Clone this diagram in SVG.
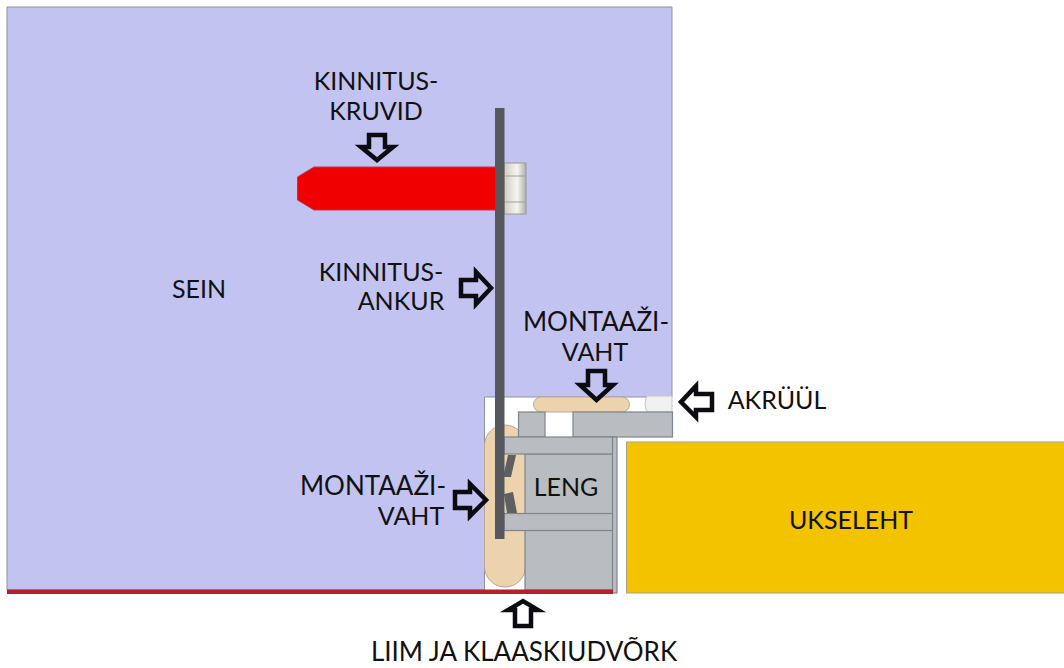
<svg xmlns="http://www.w3.org/2000/svg" width="1064" height="668" viewBox="0 0 1064 668">
<style>
.t{font-family:Lato,"Open Sans","Liberation Sans",sans-serif;font-size:25px;fill:#111;text-anchor:middle}
.w{font-size:26px}
.g{fill:#b9bcc0;stroke:#7f858c;stroke-width:1.2}
.f{fill:#edd2ae;stroke:#b8a896;stroke-width:1}
.a{fill:none;stroke:#0b0b12;stroke-width:4.500;stroke-linejoin:miter}
</style>
<defs>
<linearGradient id="b" x1="0" y1="0" x2="1" y2="0"><stop offset="0" stop-color="#cfcdc0"/><stop offset=".6" stop-color="#f6f5f0"/><stop offset="1" stop-color="#b0b0aa"/></linearGradient>
</defs>
<rect width="1064" height="668" fill="#fff"/>
<g id="sein"><path d="M7 7H672V397H484.500V590H7Z" fill="#c3c3f2" stroke="#8f93a0" stroke-width="1"/><text class="t" x="199" y="298">SEIN</text></g>
<g id="ukseleht"><rect x="626.500" y="442" width="445" height="151" fill="#f3c300" stroke="#a8a48c" stroke-width="1"/><text class="t" x="851" y="529">UKSELEHT</text></g>
<g id="akruul"><path d="M647 396H672V412H647Q643 404 647 396Z" fill="#f0f0f0" stroke="#c8c8c8"/></g>
<g id="montaazivaht-top"><rect x="533.500" y="397" width="96" height="15" rx="7.500" class="f"/></g>
<g id="montaazivaht-left"><rect x="484.500" y="425" width="41" height="162" rx="20.500" class="f"/></g>
<g id="leng">
<rect x="518.500" y="412" width="26.500" height="25" class="g"/>
<rect x="573" y="412" width="99.500" height="25" class="g"/>
<rect x="525" y="454" width="88" height="136" class="g"/>
<rect x="612.500" y="437" width="4.500" height="156" class="g"/>
<rect x="504" y="437" width="108.500" height="17" class="g"/>
<rect x="504" y="513.500" width="108.500" height="17" class="g"/>
<path d="M508 455H516L511 477H503ZM504 494L513 492L517 513H507Z" fill="#5d5f63"/>
<text class="t" x="566" y="496">LENG</text>
</g>
<g id="liim"><rect x="7" y="589.500" width="606" height="4.500" fill="#b5202c"/></g>
<g id="kruvi">
<path d="M297.500 177L314 167H497V210H314L297.500 200Z" fill="#f00000" stroke="#b83a4a" stroke-width="1"/>
<rect x="504" y="163" width="22" height="51" fill="url(#b)" stroke="#9a9a94"/>
<path d="M504 176H526M504 202H526" stroke="#a0a09a" stroke-width="1" fill="none"/>
</g>
<g id="ankur"><rect x="495" y="108" width="9.500" height="431" fill="#57585e"/></g>
<g id="labels">
<text class="t" x="376" y="90">KINNITUS-</text>
<text class="t" x="376" y="120">KRUVID</text>
<text class="t" x="381" y="281">KINNITUS-</text>
<text class="t" x="401" y="310">ANKUR</text>
<text class="t w" x="596" y="331">MONTAAŽI-</text>
<text class="t" x="595" y="361">VAHT</text>
<text class="t" x="777" y="409">AKRÜÜL</text>
<text class="t w" x="373" y="495">MONTAAŽI-</text>
<text class="t" x="411" y="525">VAHT</text>
<text class="t w" x="524" y="661">LIIM JA KLAASKIUDVÕRK</text>
</g>
<g id="connectors">
<path class="a" d="M369 135H385V147H393L377 160L361 147H369Z"/>
<path class="a" d="M461 280H476V272L491 288L476 304V296H461Z"/>
<path class="a" d="M588 371H605V385H613L596.500 400L580 385H588Z"/>
<path class="a" d="M712 394H696V386L681 402L696 417V410H712Z"/>
<path class="a" d="M455 492H470V484L486 500L470 516V508H455Z"/>
<path class="a" d="M515 626V610H508L523 601L538 610H531V626Z"/>
</g>
</svg>
